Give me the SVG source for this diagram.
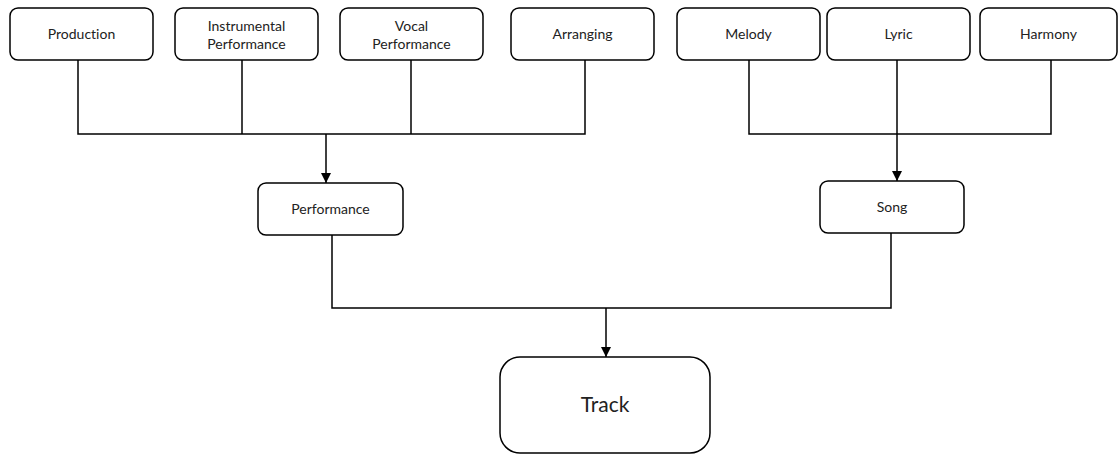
<svg xmlns="http://www.w3.org/2000/svg" width="1120" height="454" viewBox="0 0 1120 454">
  <style>
    .box { fill: #ffffff; stroke: #000000; stroke-width: 1.5; }
    .lbl { font-family: Lato, "Open Sans", sans-serif; font-size: 14px; fill: #222222; text-anchor: middle; font-variant-ligatures: none; }
    .big { font-size: 21px; }
    .wire { fill: none; stroke: #000000; stroke-width: 1.5; }
  </style>
  <defs>
    <marker id="arrow" viewBox="0 0 10 10" refX="10" refY="5" markerWidth="10" markerHeight="10" markerUnits="userSpaceOnUse" orient="auto">
      <path d="M0,0 L10,5 L0,10 Z" fill="#000000"/>
    </marker>
  </defs>

  <rect width="1120" height="454" fill="#ffffff"/>

  <g id="connectors">
    <!-- performance inputs -->
    <path class="wire" d="M78,60 V134 H585 V60"/>
    <path class="wire" d="M242,60 V134"/>
    <path class="wire" d="M411,60 V134"/>
    <path class="wire" d="M326,134 V183" marker-end="url(#arrow)"/>
    <!-- song inputs -->
    <path class="wire" d="M749,60 V134 H1051 V60"/>
    <path class="wire" d="M897,60 V181" marker-end="url(#arrow)"/>
    <!-- track inputs -->
    <path class="wire" d="M332,235 V308 H891 V233"/>
    <path class="wire" d="M606,308 V357" marker-end="url(#arrow)"/>
  </g>

  <g id="production">
    <rect class="box" x="10" y="8" width="143" height="52" rx="8"/>
    <text class="lbl" x="81.5" y="39">Production</text>
  </g>
  <g id="instrumental-performance">
    <rect class="box" x="175" y="8" width="143" height="52" rx="8"/>
    <text class="lbl" x="246.5" y="31">Instrumental</text>
    <text class="lbl" x="246.5" y="49">Performance</text>
  </g>
  <g id="vocal-performance">
    <rect class="box" x="340" y="8" width="143" height="52" rx="8"/>
    <text class="lbl" x="411.5" y="31">Vocal</text>
    <text class="lbl" x="411.5" y="49">Performance</text>
  </g>
  <g id="arranging">
    <rect class="box" x="511" y="8" width="143" height="52" rx="8"/>
    <text class="lbl" x="582.5" y="39">Arranging</text>
  </g>
  <g id="melody">
    <rect class="box" x="677" y="8" width="143" height="52" rx="8"/>
    <text class="lbl" x="748.5" y="39">Melody</text>
  </g>
  <g id="lyric">
    <rect class="box" x="827" y="8" width="143" height="52" rx="8"/>
    <text class="lbl" x="898.5" y="39">Lyric</text>
  </g>
  <g id="harmony">
    <rect class="box" x="980" y="8" width="137" height="52" rx="8"/>
    <text class="lbl" x="1048.5" y="39">Harmony</text>
  </g>
  <g id="performance">
    <rect class="box" x="258" y="183" width="145" height="52" rx="8"/>
    <text class="lbl" x="330.5" y="214">Performance</text>
  </g>
  <g id="song">
    <rect class="box" x="820" y="181" width="144" height="52" rx="8"/>
    <text class="lbl" x="892" y="212">Song</text>
  </g>
  <g id="track">
    <rect class="box" x="500" y="357" width="210" height="96" rx="20"/>
    <text class="lbl big" x="605" y="412">Track</text>
  </g>
</svg>
